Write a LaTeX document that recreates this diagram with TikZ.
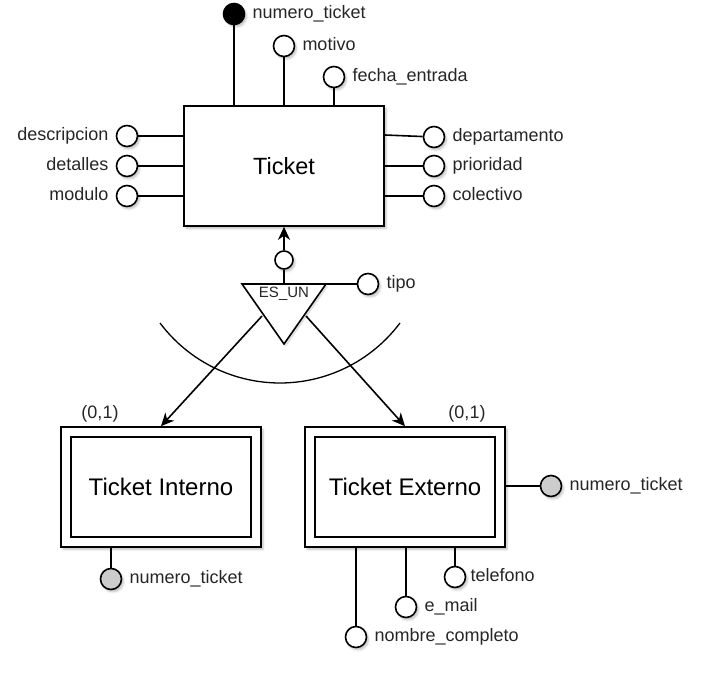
\documentclass[tikz,border=0pt]{standalone}
\usepackage{fontspec}
\setmainfont{Liberation Sans}
\usetikzlibrary{arrows.meta,shadows.blur}
\tikzset{
  ln/.style={line width=1.6pt},
  shd/.style={blur shadow={shadow xshift=2pt, shadow yshift=-2.5pt, shadow blur steps=5, shadow opacity=25}},
  attr/.style={circle, draw, line width=1.6pt, fill=white, minimum size=21pt, inner sep=0pt, shd},
  keyattr/.style={attr, fill=black},
  partkey/.style={attr, fill=gray!40},
  ent/.style={draw, line width=1.6pt, fill=white, minimum width=200pt, minimum height=120pt, inner sep=0pt, font=\fontsize{23.5}{26}\selectfont, shd},
  inbox/.style={draw, line width=1.6pt, fill=white, minimum width=180pt, minimum height=100pt, inner sep=0pt, font=\fontsize{24}{27}\selectfont},
  lbl/.style={inner sep=0pt, text height=12pt, text depth=3.5pt, font=\fontsize{18}{20}\selectfont, text=black!85},
  lblr/.style={lbl, anchor=west, xshift=7pt},
  lbll/.style={lbl, anchor=east, xshift=-7pt},
  arr/.style={ln, -{Stealth[length=13pt, width=12pt, inset=4pt]}}
}
\begin{document}
\begin{tikzpicture}[x=1pt, y=-1pt]
\useasboundingbox (0,0) rectangle (724,674);

% Ticket entity
\node[ent] (t) at (284,166) {Ticket};

% top attributes
\node[keyattr] (a1) at (234,14) {};
\node[attr] (a2) at (284,46) {};
\node[attr] (a3) at (334,77) {};
\draw[ln] (a1) -- (a1 |- t.north);
\draw[ln] (a2) -- (a2 |- t.north);
\draw[ln] (a3) -- (a3 |- t.north);
\node[lblr] (l1) at (a1.east) {numero\_ticket};
\node[lblr] (l2) at (a2.east) {motivo};
\node[lblr] (l3) at (a3.east) {fecha\_entrada};

% left attributes
\node[attr] (b1) at (127,136) {};
\node[attr] (b2) at (127,166) {};
\node[attr] (b3) at (127,196) {};
\draw[ln] (b1) -- (b1 -| t.west);
\draw[ln] (b2) -- (b2 -| t.west);
\draw[ln] (b3) -- (b3 -| t.west);
\node[lbll] (m1) at (b1.west) {descripcion};
\node[lbll] (m2) at (b2.west) {detalles};
\node[lbll] (m3) at (b3.west) {modulo};

% right attributes
\node[attr] (c1) at (434,137) {};
\node[attr] (c2) at (434,166) {};
\node[attr] (c3) at (434,196) {};
\draw[ln] (t.east |- 0,135) -- (c1);
\draw[ln] (c2) -- (c2 -| t.east);
\draw[ln] (c3) -- (c3 -| t.east);
\node[lblr] (n1) at (c1.east) {departamento};
\node[lblr] (n2) at (c2.east) {prioridad};
\node[lblr] (n3) at (c3.east) {colectivo};

% ES_UN triangle
\coordinate (tl) at (242,284);
\coordinate (tr) at (326,284);
\coordinate (tb) at (284,344);
\coordinate (tm) at (284,284);
\fill[black, opacity=0.12] ([shift={(2,2.5)}]tl) -- ([shift={(2,2.5)}]tr) -- ([shift={(2,2.5)}]tb) -- cycle;
\draw[ln, fill=white, line join=miter] (tl) -- (tr) -- (tb) -- cycle;
\node[inner sep=0pt, font=\fontsize{15}{17}\selectfont, text=black!85] (es) at (284,294) {ES\_UN};

% small circle and arrow to Ticket
\node[circle, draw, line width=1.6pt, fill=white, minimum size=18pt, inner sep=0pt, shd] (s) at (284,260) {};
\draw[ln] (s) -- (tm);
\draw[arr] (s) -- (t.south);

% tipo
\node[attr] (tp) at (368,284) {};
\draw[ln] (tr) -- (tp);
\node[lblr] (tpl) at (tp.east) {tipo};

% arc
\draw[line width=1.3pt] plot[domain=216.87:323.13, samples=80, smooth] ({280+150*cos(\x)}, {233-150*sin(\x)});

% subtypes
\node[ent] (ti) at (161,487) {};
\node[inbox] (tii) at (161,487) {Ticket Interno};
\node[ent] (te) at (405,487) {};
\node[inbox] (tei) at (405,487) {Ticket Externo};

\coordinate (la) at (262,316);
\coordinate (ra) at (306,316);
\draw[arr] (la) -- (ti.north);
\draw[arr] (ra) -- (te.north);

\node[lbl] (k1) at (100,414) {(0,1)};
\node[lbl] (k2) at (467,414) {(0,1)};

% Ticket Interno attribute
\node[partkey] (i1) at (111,579) {};
\draw[ln] (i1) -- (i1 |- ti.south);
\node[lblr] (il1) at (i1.east) {numero\_ticket};

% Ticket Externo attributes
\node[partkey] (e1) at (551,486) {};
\draw[ln] (e1) -- (e1 -| te.east);
\node[lblr] (el1) at (e1.east) {numero\_ticket};

\node[attr] (e2) at (356,637) {};
\node[attr] (e3) at (406,607) {};
\node[attr] (e4) at (455,577) {};
\draw[ln] (e2) -- (e2 |- te.south);
\draw[ln] (e3) -- (e3 |- te.south);
\draw[ln] (e4) -- (e4 |- te.south);
\node[lblr] (el2) at (e2.east) {nombre\_completo};
\node[lblr] (el3) at (e3.east) {e\_mail};
\node[lblr, xshift=-3pt] (el4) at (e4.east) {telefono};
\end{tikzpicture}
\end{document}
